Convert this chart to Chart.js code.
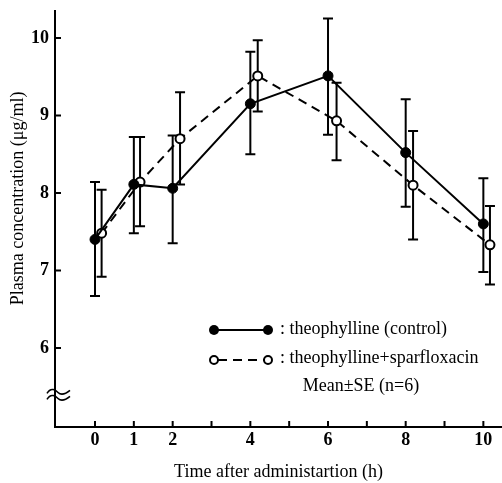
<!DOCTYPE html>
<html>
<head>
<meta charset="utf-8">
<script src="https://cdn.jsdelivr.net/npm/chart.js@4/dist/chart.umd.min.js"></script>
<style>
  html, body { margin: 0; padding: 0; background: #fff; }
  #wrap { width: 502px; height: 483px; }
</style>
</head>
<body>
<div id="wrap"><canvas id="chart"></canvas></div>
<script>
// time after administration (h)
var times = [0, 1, 2, 4, 6, 8, 10];
// open circles sit a little to the right of the filled ones in the figure
var timesShifted = [0.17, 1.16, 2.19, 4.19, 6.22, 8.19, 10.17];

// theophylline (control): mean, upper and lower end of the SE bar
var controlMean  = [7.40, 8.11, 8.06, 9.15, 9.51, 8.52, 7.60];
var controlUpper = [8.14, 8.72, 8.74, 9.82, 10.25, 9.21, 8.19];
var controlLower = [6.67, 7.48, 7.35, 8.50, 8.75, 7.82, 6.98];

// theophylline + sparfloxacin
var sparfMean  = [7.48, 8.14, 8.70, 9.51, 8.93, 8.10, 7.33];
var sparfUpper = [8.04, 8.72, 9.30, 9.97, 9.42, 8.80, 7.83];
var sparfLower = [6.92, 7.57, 8.11, 9.05, 8.42, 7.40, 6.82];

var xTicks = [0, 1, 2, 3, 4, 5, 6, 7, 8, 9, 10];
var xLabeled = [0, 1, 2, 4, 6, 8, 10];
var yTicks = [6, 7, 8, 9, 10];

var serif = '"Liberation Serif", "DejaVu Serif", serif';

function pts(xs, ys) {
    return xs.map((x, i) => ({ x: x, y: ys[i] }));
}

//error bars, drawn under the lines and circles
var errorBars = {
    id: 'errorBars',
    beforeDatasetsDraw(chart) {
        var ctx = chart.ctx, xs = chart.scales.x, ys = chart.scales.y;
        var sets = [[times, controlUpper, controlLower], [timesShifted, sparfUpper, sparfLower]];
        ctx.save();
        ctx.strokeStyle = '#000';
        ctx.lineWidth = 2;
        sets.forEach(s => {
            s[0].forEach((t, i) => {
                var px = xs.getPixelForValue(t);
                var top = ys.getPixelForValue(s[1][i]);
                var bot = ys.getPixelForValue(s[2][i]);
                ctx.beginPath();
                ctx.moveTo(px, top); ctx.lineTo(px, bot);
                ctx.moveTo(px - 5, top); ctx.lineTo(px + 5, top);
                ctx.moveTo(px - 5, bot); ctx.lineTo(px + 5, bot);
                ctx.stroke();
            });
        });
        ctx.restore();
    }
};

//axis lines with inward ticks, the break mark and the y title
var axes = {
    id: 'axes',
    afterDraw(chart) {
        var ctx = chart.ctx, a = chart.chartArea, xs = chart.scales.x, ys = chart.scales.y;
        ctx.save();
        ctx.strokeStyle = '#000';
        ctx.lineWidth = 2;
        ctx.beginPath();
        ctx.moveTo(a.left, a.top); ctx.lineTo(a.left, a.bottom);
        ctx.lineTo(a.right, a.bottom);
        yTicks.forEach(v => {
            var py = ys.getPixelForValue(v);
            ctx.moveTo(a.left, py); ctx.lineTo(a.left + 6, py);
        });
        xTicks.forEach(v => {
            var px = xs.getPixelForValue(v);
            ctx.moveTo(px, a.bottom); ctx.lineTo(px, a.bottom - 6);
        });
        ctx.stroke();

        // break symbol on the y axis
        var by = ys.getPixelForValue(5.4);
        ctx.lineWidth = 1.6;
        [-3, 3].forEach(d => {
            var y0 = by + d;
            ctx.beginPath();
            ctx.moveTo(a.left - 8, y0 + 2);
            ctx.bezierCurveTo(a.left - 4, y0 - 5, a.left + 1, y0 - 1, a.left + 3, y0 + 1);
            ctx.bezierCurveTo(a.left + 6, y0 + 4, a.left + 10, y0 + 3, a.left + 15, y0 - 1);
            ctx.stroke();
        });

        // y axis title, a bit above the middle as in the figure
        ctx.fillStyle = '#000';
        ctx.font = '18px ' + serif;
        ctx.textAlign = 'center';
        ctx.textBaseline = 'middle';
        ctx.translate(18, ys.getPixelForValue(7.93));
        ctx.rotate(-Math.PI / 2);
        ctx.fillText('Plasma concentration (\u03BCg/ml)', 0, 0);
        ctx.restore();
    }
};

//legend text and markers inside the plot
var legendBox = {
    id: 'legendBox',
    afterDraw(chart) {
        var ctx = chart.ctx;
        ctx.save();
        ctx.strokeStyle = '#000';
        ctx.lineWidth = 2;
        // solid row
        ctx.beginPath();
        ctx.moveTo(214, 330); ctx.lineTo(268, 330);
        ctx.stroke();
        [214, 268].forEach(x => {
            ctx.beginPath();
            ctx.arc(x, 330, 5, 0, Math.PI * 2);
            ctx.fillStyle = '#000';
            ctx.fill();
        });
        // dashed row
        ctx.setLineDash([9, 6]);
        ctx.beginPath();
        ctx.moveTo(218, 360); ctx.lineTo(264, 360);
        ctx.stroke();
        ctx.setLineDash([]);
        [214, 268].forEach(x => {
            ctx.beginPath();
            ctx.arc(x, 360, 4, 0, Math.PI * 2);
            ctx.fillStyle = '#fff';
            ctx.fill();
            ctx.stroke();
        });
        ctx.fillStyle = '#000';
        ctx.font = '18px ' + serif;
        ctx.textBaseline = 'middle';
        ctx.textAlign = 'left';
        ctx.fillText(': theophylline (control)', 280, 329);
        ctx.fillText(': theophylline+sparfloxacin', 280, 358);
        ctx.textAlign = 'center';
        ctx.fillText('Mean\u00B1SE (n=6)', 361, 386);
        ctx.restore();
    }
};

var ctx = document.getElementById('chart').getContext('2d');

var myChart = new Chart(ctx, {
    type: 'line',
    data: {
        datasets: [{
            label: 'theophylline (control)',
            data: pts(times, controlMean),
            borderColor: '#000',
            backgroundColor: '#000',
            borderWidth: 2,
            pointRadius: 5,
            pointBorderWidth: 1,
            pointBackgroundColor: '#000',
            tension: 0
        }, {
            label: 'theophylline+sparfloxacin',
            data: pts(timesShifted, sparfMean),
            borderColor: '#000',
            backgroundColor: '#fff',
            borderWidth: 2,
            borderDash: [9, 6],
            pointRadius: 4.5,
            pointBorderWidth: 2,
            pointBackgroundColor: '#fff',
            tension: 0
        }]
    },
    options: {
        responsive: true,
        maintainAspectRatio: false,
        animation: false,
        layout: { autoPadding: false, padding: { top: 10, right: 0, left: 0, bottom: 0 } },
        plugins: {
            legend: { display: false },
            tooltip: { enabled: false }
        },
        scales: {
            x: {
                type: 'linear',
                min: -1.03,
                max: 10.48,
                grid: { display: false, drawTicks: false },
                border: { display: false },
                afterBuildTicks: s => { s.ticks = xTicks.map(v => ({ value: v })); },
                afterFit: s => { s.height = 56; s.paddingLeft = 0; s.paddingRight = 0; },
                ticks: {
                    padding: 3,
                    color: '#000',
                    maxRotation: 0,
                    autoSkip: false,
                    font: { family: serif, size: 18, weight: 'bold' },
                    callback: v => xLabeled.includes(v) ? String(v) : ''
                },
                title: {
                    display: true,
                    text: 'Time after administartion (h)',
                    color: '#000',
                    font: { family: serif, size: 18 },
                    padding: { top: 0, bottom: 0 }
                }
            },
            y: {
                min: 4.98,
                max: 10.36,
                grid: { display: false, drawTicks: false },
                border: { display: false },
                afterBuildTicks: s => { s.ticks = yTicks.map(v => ({ value: v })); },
                afterFit: s => { s.width = 55; s.paddingTop = 0; s.paddingBottom = 0; },
                ticks: {
                    padding: 6,
                    color: '#000',
                    font: { family: serif, size: 18, weight: 'bold' }
                }
            }
        }
    },
    plugins: [errorBars, axes, legendBox]
});
</script>
</body>
</html>
